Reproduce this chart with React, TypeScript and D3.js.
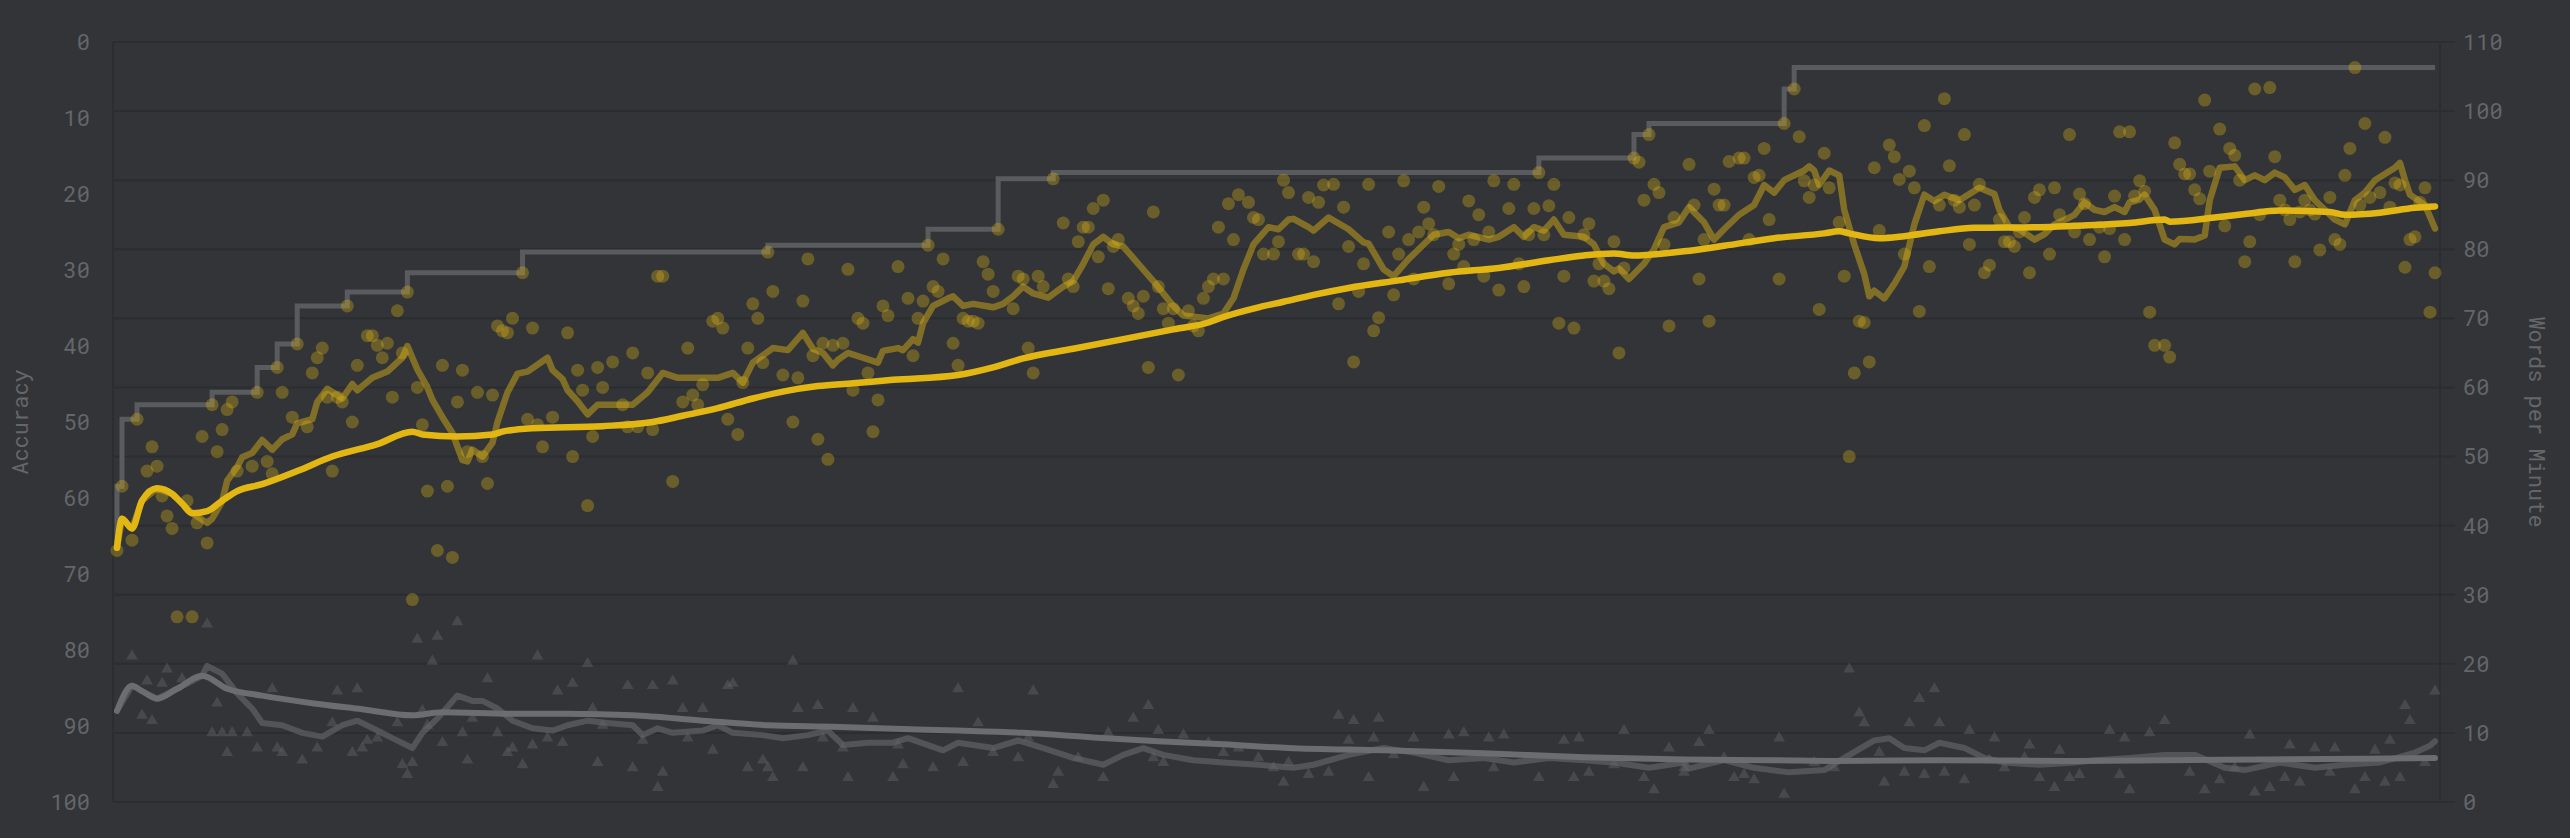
import React from "react";
import * as d3 from "d3";

// ---------- data (test index, value) ----------
const wpmTicks = [0, 10, 20, 30, 40, 50, 60, 70, 80, 90, 100, 110];
const accTicks = [0, 10, 20, 30, 40, 50, 60, 70, 80, 90, 100];

const wpmPoints: [number, number][] = [
  [0,36.4],[1,45.7],[3,37.9],[4,55.4],[6,47.9],[7,51.4],[8,48.6],[9,44.3],[10,41.4],[11,39.6],[12,26.8],[14,43.6],[15,26.8],[16,40.4],[17,52.9],[18,37.5],[19,57.5],[20,50.7],[21,53.9],[22,56.8],[23,57.9],[24,47.9],[27,48.6],[28,59.3],[30,49.3],[31,47.5],[32,62.9],[33,59.3],[35,55.7],[36,66.3],[38,54.3],[39,62.1],[40,64.3],[41,65.7],[42,58.6],[43,47.9],[44,58.6],[45,57.9],[46,71.8],[47,55],[48,63.2],[50,67.5],[51,67.5],[52,66.1],[53,64.3],[54,66.4],[55,58.6],[56,71.1],[57,65],[58,73.8],[59,29.3],[60,60],[61,54.6],[62,45],[64,36.4],[65,63.2],[66,45.7],[67,35.4],[68,57.9],[69,62.5],[70,50.7],[72,59.3],[73,50],[74,46.1],[75,58.9],[76,68.9],[77,68.2],[78,67.9],
  [79,70],[81,76.6],[82,55.4],[83,68.6],[84,54.6],[85,51.4],[87,55.7],[90,67.9],[91,50],[92,62.5],[93,59.6],[94,42.9],[95,52.9],[96,62.9],[97,60],[99,63.7],[101,57.5],[102,54.3],[103,65],[104,54.3],[106,62.1],[107,53.9],[108,76.1],[109,76.1],[111,46.4],[113,57.9],[114,65.7],[115,58.9],[116,57.5],[117,60.4],[119,69.6],[120,70],[121,68.6],[122,55.4],[124,53.2],[125,60.7],[126,65.7],[127,72.1],[128,70],[129,63.6],[130,79.6],[131,73.9],[133,61.8],[135,55],[136,61.4],[137,72.5],[138,78.6],[139,64.6],[140,52.5],[141,66.4],[142,49.6],[143,66.1],[145,66.4],[146,77.1],[147,59.6],[148,70],[149,69.3],[150,62.1],[151,53.6],[152,58.2],[153,71.8],[154,70.4],[156,77.5],
  [158,72.9],[159,64.6],[160,70],[161,72.5],[162,80.6],[163,74.6],[164,73.9],[165,78.6],[167,66.4],[168,63.2],[169,70],[170,69.6],[171,69.6],[172,69.3],[173,78.2],[174,76.4],[175,73.9],[176,82.9],[179,71.4],[180,76.1],[181,75.7],[182,65.7],[183,62.1],[184,76.1],[185,74.6],[187,90.2],[189,83.8],[190,75.7],[191,74.6],[192,81.1],[193,83.2],[194,83.2],[195,85.9],[196,78.9],[197,87.1],[198,74.3],[199,80.4],[200,81.4],[202,72.9],[203,71.8],[204,70.7],[205,73.2],[206,62.9],[207,85.4],[208,74.6],[209,71.4],[210,69.3],[211,71.4],[212,61.8],[214,71.1],[215,68.9],[216,68.2],[217,72.9],[218,74.6],[219,75.7],[220,83.2],[221,75.7],[222,86.6],[223,81.4],[224,87.9],[226,86.8],[227,84.6],[228,84.3],[229,79.3],[231,79.3],[232,81.1],[233,90.0],[234,88.2],
  [236,79.3],[237,79.3],[238,87.5],[239,78.2],[240,86.8],[241,89.3],[243,89.4],[244,72.1],[245,86.1],[246,80.4],[247,63.7],[248,73.9],[249,77.9],[250,89.4],[251,68.2],[252,70.1],[254,82.5],[255,73.4],[256,79.3],[257,89.9],[258,81.4],[259,75.7],[260,82.5],[261,86.1],[262,83.7],[263,82.1],[264,89.1],[266,75],[267,79.3],[268,80.7],[269,77.5],[270,87],[271,81.4],[272,85],[273,76.1],[274,82.5],[275,89.9],[276,74.1],[278,85.9],[279,89.4],[280,77.9],[281,74.6],[282,82.1],[283,85.9],[284,91.1],[285,82.1],[286,86.3],[287,89.4],[288,69.3],[289,76.1],[290,84.6],[291,68.6],[293,82.1],[294,83.7],[295,75.4],[296,77.9],[297,75.4],[298,74.3],[299,81.1],[300,65],[301,77.3],[303,93.2],[304,92.6],[305,87.1],[306,96.6],[307,89.4],[308,88.2],[309,80.7],[310,68.9],[311,84.6],
  [314,92.3],[315,86.4],[316,75.7],[317,81.4],[318,69.6],[319,88.7],[320,86.4],[321,86.4],[322,92.7],[324,93.2],[325,93.2],[326,81.4],[327,90.4],[328,90.7],[329,94.6],[330,84.3],[332,75.7],[333,98.2],[335,103.2],[336,96.3],[337,89.9],[338,87.5],[339,89.3],[340,71.3],[341,93.9],[342,88.9],[344,83.9],[345,76.1],[346,50],[347,62.1],[348,69.6],[349,69.4],[350,63.7],[351,91.8],[352,82.7],[354,95.1],[355,93.4],[356,90.1],[357,79.3],[358,91.3],[359,88.9],[360,71],[361,97.9],[362,77.5],[364,86.4],[365,101.8],[366,92.1],[367,87.1],[368,86.1],[369,96.6],[370,80.7],[371,86.4],[372,89.4],[373,76.6],[374,77.7],[376,84.3],[377,81.1],[378,81.1],[379,80.4],[380,82.5],[381,84.6],[382,76.6],[383,87.5],[384,88.6],[386,79.3],[387,88.9],[388,85],[390,96.6],
  [391,82.5],[392,88],[393,86.6],[394,81.4],[396,83.2],[397,78.9],[398,83],[399,87.7],[400,97],[401,81.4],[402,97],[403,87.7],[404,89.9],[405,88.4],[406,70.9],[407,66.1],[409,66.1],[410,64.4],[411,95.4],[412,92.3],[413,90.9],[414,90.9],[415,88.6],[416,87.3],[417,101.6],[418,91.3],[420,97.4],[421,83.4],[422,94.6],[423,93.6],[424,90],[425,78.2],[426,81.1],[427,103.2],[428,85],[430,103.4],[431,93.4],[432,87.1],[433,85.7],[434,84.3],[435,78.2],[436,85.4],[437,87.1],[438,85.7],[439,85.1],[440,79.9],[442,87.5],[443,81.4],[444,80.7],[445,90.7],[446,94.6],[447,106.3],[448,86.4],[449,98.2],[450,87.5],[452,88.2],[453,96.2],[454,86.1],[455,89.6],[456,89.3],[457,77.4],[458,81.4],[459,81.8],[460,86.8],[461,88.9],[462,70.9],[463,76.6],
];

const pbSteps: [number, number][] = [
  [0,36.4],[1,45.7],[4,55.4],[19,57.5],[28,59.3],[32,62.9],[36,66.3],[46,71.8],[58,73.8],[81,76.6],[130,79.6],[162,80.6],[176,82.9],[187,90.2],[284,91.1],[303,93.2],[306,96.6],[333,98.2],[335,103.2],[447,106.3],[463,106.3],
];

const wpmAvg10: [number, number][] = [
  [0,36.8],[1,41],[3,39.6],[5,43.6],[8,45.4],[11,44.6],[13,43.2],[15,41.8],[18,40.4],[19,41],[21,43.5],[22,46.5],[24,48.5],[25,49.9],[27,50.5],[29,52.4],[31,51],[33,52.5],[35,53.2],[36,54.8],[39,55.4],[40,57.9],[42,59.8],[45,58.4],[47,60.5],[48,59.6],[51,61.4],[54,62.3],[57,64.3],[58,66],[60,62.6],[62,60],[63,58.2],[65,55.7],[67,53.4],[69,49.5],[70,49.3],[71,51],[73,50],[75,52],[76,55],[78,59.3],[80,62],[82,62.3],[86,64.3],[87,62.5],[89,61.2],[90,59.6],[92,58],[94,56.1],[96,57.5],[99,57.5],[103,57.5],[106,59.3],[109,62.1],[112,61.4],[117,61.4],[120,61.4],[123,62.1],[125,60.7],[127,63.6],[131,65.7],[134,65.4],[137,67.9],[139,65.6],[141,65],[143,63.2],[144,64],[146,65],[149,64.3],[152,63.6],[153,65.3],[156,65.7],[157,65.4],[159,67],[160,66.5],[161,69.3],[163,71.8],[166,72.9],[167,73.2],[169,71.8],[171,72.1],[175,71.6],[177,72.1],[179,73.2],[181,74.6],[183,73.6],[186,73],[189,74.6],[191,75.4],[193,77.9],[195,80.7],[197,81.8],[199,80.7],[201,80.4],[204,77.9],[207,75.4],[209,73.6],[211,71.8],[213,70.4],[218,70],[221,70.7],[223,72.9],[225,77.1],[227,80.7],[230,83.2],[232,82.9],[234,84.3],
  [235,84.4],[238,83.2],[239,82.7],[242,84.6],[246,82.9],[249,81],[250,80.8],[253,77.1],[255,76.1],[258,78.6],[259,79.3],[263,82.1],[266,82.5],[268,81.6],[270,82.1],[274,81.4],[276,81.8],[279,83.2],[281,81.8],[283,83.2],[285,82.7],[287,84.3],[289,82.1],[293,81.8],[295,80.7],[297,77.9],[299,76.8],[300,77.2],[302,75.7],[305,77.9],[307,80],[309,83.2],[312,83.9],
  [314,86.1],[317,83.9],[319,81.4],[321,82.9],[324,85],[327,86.4],[329,89.3],[331,88.2],[333,90],[337,91.4],[338,92],[339,91.4],[340,89.3],[342,91.4],[344,90.7],[345,85.7],[347,80.7],[349,76.4],[350,73.2],[351,74],[353,72.9],[355,75],[357,77.5],[359,83.6],[361,87.9],[363,87],[365,87.9],[368,87.1],[370,88],[372,88.9],[375,88],[376,85.7],[378,83.2],[380,82.9],[383,81.4],[385,82.2],[387,83.6],[390,84.6],
  [391,85],[393,86.8],[395,85.7],[397,85.4],[399,86.1],[401,85.4],[402,86.8],[404,87.2],[405,87.9],[407,85.7],[409,81.4],[411,80.7],[412,81.5],[415,81.4],[417,82],[418,87.1],[420,91.8],[423,92],[425,90],[427,90.7],[429,90],[431,91.1],[433,90.4],[435,88.6],[437,89.3],[439,87.1],[441,85.7],[443,84.3],[445,83.6],[447,87.1],[449,88.2],[451,90],[455,91.8],[456,92.5],[457,90],[458,87.9],[461,86.4],[463,83],
];

const wpmAvg100: [number, number][] = [
  [0,36.8],[1,41],[3,39.6],[5,43.6],[8,45.4],[11,44.6],[13,43.2],[15,41.8],[18,42.1],[21,43.6],[24,45],[29,46],[36,47.9],[43,50],[52,51.8],[59,53.6],[61,53.2],[68,52.9],[75,53.2],[77,53.6],[83,54.1],[97,54.4],[107,55],[113,55.9],[120,57],[127,58.4],[133,59.4],[140,60.2],[147,60.6],[155,61.1],[168,61.8],[175,62.9],[181,64.2],[191,65.6],[201,67],[211,68.4],[218,69.4],[221,70.2],[228,71.6],[233,72.4],[239,73.4],[246,74.4],[256,75.5],[266,76.6],[276,77.3],[286,78.4],[293,79.1],[299,79.4],[303,79.1],[306,79.2],[313,79.7],[321,80.5],[331,81.6],[341,82.3],[344,82.6],[346,82.3],[352,81.6],[357,81.9],[364,82.6],[371,83.1],[384,83.2],[391,83.4],[402,83.8],[409,84.3],[410,84],[419,84.6],[425,85.1],[432,85.6],[442,85.4],[445,85],[452,85.3],[459,86],[463,86.2],
];

const accPoints: [number, number][] = [
  [3,80.8],[18,76.6],[10,82.5],[6,84.1],[5,88.6],[7,89.3],[9,84.4],[13,83.8],[19,90.9],[21,90.9],[23,90.9],[26,90.9],[22,93.5],[20,87],[28,92.9],[31,85.1],[32,92.9],[33,93.5],[37,94.5],[40,92.9],[43,89.6],[44,85.4],[48,85.1],[47,93.5],[49,92.9],[50,91.9],[52,91.6],[56,89.6],[57,95.1],[58,96.4],[59,94.8],[60,78.6],[63,81.5],[64,78.2],[68,76.3],[65,92.2],[69,90.9],[70,94.5],[71,89],[74,83.8],[76,90.9],[78,93.5],[61,88],[62,89.9],
  [84,80.8],[88,85.4],[91,84.4],[94,81.8],[81,95.1],[79,92.9],[83,92.5],[86,91.6],[89,92.2],[95,87.7],[96,94.8],[97,89.9],[102,84.7],[103,95.5],[105,91.9],[107,84.7],[108,98.1],[109,96.1],[111,84.1],[113,87.7],[114,91.6],[117,87.7],[119,93.2],[122,84.7],[123,84.4],[126,95.5],[129,94.5],[130,95.5],[131,96.8],[135,81.5],[136,87.7],[137,95.5],[140,87.3],[141,91.6],[146,96.8],[147,87.7],[145,92.9],[151,89],[155,96.8],[156,92.5],
  [168,85.1],[183,85.4],[157,95.1],[163,95.5],[169,94.8],[172,89.6],[175,93.5],[180,94.2],[182,91.6],[188,96.1],[187,97.7],[192,94.2],[197,96.8],[198,90.9],[203,89],[206,87.3],[207,94.2],[208,90.6],[213,91.2],[209,94.8],[218,92.2],[221,93.5],[224,92.9],[228,94.2],[231,95.5],[234,94.8],
  [244,88.6],[247,89.3],[252,89],[246,91.9],[251,91.6],[259,91.6],[266,91.2],[269,90.9],[274,91.6],[277,91.2],[289,91.9],[292,91.6],[301,90.6],[310,92.9],[233,97.4],[238,96.4],[242,96.1],[250,96.8],[255,93.8],[261,98.1],[267,96.8],[275,95.5],[284,96.8],[291,96.8],[294,96.1],[299,95.1],[305,96.8],[307,98.4],[313,96.1],
  [346,82.5],[348,88.3],[349,89.6],[360,86.4],[363,85.1],[358,89.6],[364,89.6],[370,90.6],[375,91.6],[382,92.5],[388,93.2],[318,90.6],[316,92.2],[332,91.6],[323,96.8],[325,96.4],[327,97.1],[333,99],[339,94.8],[343,95.5],[353,97.4],[357,96.1],[361,96.4],[365,96.1],[369,97.1],[377,95.5],[384,96.8],[387,98.1],[313,95.5],[321,94.2],[352,93.5],[374,94.5],[381,94.2],
  [398,90.6],[401,91.6],[406,90.9],[409,89.3],[426,91.2],[434,92.5],[451,93.2],[454,91.9],[457,87.3],[458,89.3],[463,85.4],[461,94.8],[456,96.8],[390,96.8],[392,96.4],[400,96.4],[402,98.4],[417,98.4],[420,97.1],[427,98.7],[430,98.1],[433,96.8],[436,97.4],[442,96.1],[447,98.4],[449,96.8],[453,97.4],[443,92.9],[439,92.9],[423,95.5],[414,96.1],
];

const accAvg10: [number, number][] = [
  [0,88],[3,84.7],[5,85.4],[8,86.4],[12,85.1],[17,83.4],[18,82.1],[21,83.1],[24,85.7],[27,87.7],[29,89.6],[33,89.9],[37,90.9],[41,91.4],[45,89.9],[48,89.3],[52,90.6],[55,91.6],[59,92.9],[61,90.9],[64,89],[68,86],[71,86.7],[73,86.7],[76,87.7],[79,89.3],[83,90.3],[87,90.6],[90,89.9],[94,89.3],[98,89.6],[103,89.9],[105,91.2],[108,90.3],[111,90.9],[117,90.6],[120,89.9],[123,90.9],[129,91.2],[133,91.6],[138,91.2],[142,90.6],[145,92.5],[150,92.2],[155,92.2],[158,91.6],[165,93.2],[168,92.2],[175,92.9],[180,91.9],[185,92.9],[191,94.2],[197,95.1],[201,93.8],[205,92.9],[209,93.8],[215,94.5],[221,94.8],[228,95.1],[235,95.5],[239,95.1],[246,93.8],[253,92.9],[259,93.5],[266,94.5],[273,94.2],[279,94.8],[286,94.2],[293,94.5],[299,94.8],[306,95.5],[313,94.8],[314,95.6],[321,94.5],[327,95.5],[334,96.1],[341,95.8],[345,94.2],[351,91.9],[354,91.6],[357,92.9],[361,93.2],[364,92.2],[369,92.9],[373,94.2],[377,94.8],[384,95.1],[391,94.8],[395,94.5],[402,94.2],[409,93.8],[415,93.8],[421,95.5],[425,95.8],[432,94.8],[439,95.5],[445,95.1],[452,94.8],[459,93.5],[462,92.6],[463,92.0],
];

const accAvg100: [number, number][] = [
  [0,88],[3,84.7],[5,85.4],[8,86.4],[12,85.1],[17,83.4],[22,85.1],[29,86],[39,87],[49,87.8],[59,88.6],[65,88.2],[79,88.4],[90,88.4],[103,88.6],[117,89.3],[130,89.9],[143,90.1],[157,90.4],[168,90.6],[181,90.9],[195,91.5],[208,92],[221,92.4],[234,92.9],[253,93.2],[273,93.6],[293,94.1],[313,94.4],[331,94.5],[344,94.6],[364,94.5],[390,94.6],[409,94.5],[429,94.4],[449,94.3],[463,94.2],
];

// ---------- layout ----------
const W = 2570;
const H = 838;
const PLOT_LEFT = 113;
const PLOT_RIGHT = 2440;
const FONT = "'Roboto Mono', 'DejaVu Sans Mono', monospace";

const BG = "#323437";
const SUB = "#646669";
const MAIN = "#e2b714";
const GRID = "#2b2d30";

export default function App() {
  const x = d3.scaleLinear().domain([0, 463]).range([117, 2435]);
  const yW = d3.scaleLinear().domain([0, 110]).range([802, 42]);
  const yA = d3.scaleLinear().domain([0, 100]).range([42, 802]);

  const wLine = d3
    .line<[number, number]>()
    .x((d) => x(d[0]))
    .y((d) => yW(d[1]));
  const aLine = d3
    .line<[number, number]>()
    .x((d) => x(d[0]))
    .y((d) => yA(d[1]));
  const pbLine = d3
    .line<[number, number]>()
    .x((d) => x(d[0]))
    .y((d) => yW(d[1]))
    .curve(d3.curveStepBefore);

  const tri = d3.symbol().type(d3.symbolTriangle).size(60)() as string;

  return (
    <svg
      width={W}
      height={H}
      style={{ position: "absolute", left: 0, top: 0, background: BG, display: "block" }}
    >
      <rect x={0} y={0} width={W} height={H} fill={BG} />

      {/* grid */}
      <g>
        {wpmTicks.map((t) => (
          <line
            key={"g" + t}
            x1={PLOT_LEFT}
            x2={2455}
            y1={yW(t)}
            y2={yW(t)}
            stroke={GRID}
            strokeWidth={2}
          />
        ))}
        <line x1={PLOT_LEFT} x2={PLOT_LEFT} y1={yW(110)} y2={yW(0)} stroke={GRID} strokeWidth={2} />
        <line x1={PLOT_RIGHT} x2={PLOT_RIGHT} y1={yW(110)} y2={yW(0)} stroke={GRID} strokeWidth={2} />
      </g>

      {/* axis labels */}
      <g fontFamily={FONT} fontSize={22} fill={SUB}>
        {accTicks.map((t) => (
          <text key={"a" + t} x={90} y={yA(t)} dy="0.36em" textAnchor="end">
            {t}
          </text>
        ))}
        {wpmTicks.map((t) => (
          <text key={"w" + t} x={2463} y={yW(t)} dy="0.36em" textAnchor="start">
            {t}
          </text>
        ))}
        <text
          transform={`translate(20, ${(42 + 802) / 2}) rotate(-90)`}
          textAnchor="middle"
          dy="0.36em"
        >
          Accuracy
        </text>
        <text
          transform={`translate(2537, ${(42 + 802) / 2}) rotate(90)`}
          textAnchor="middle"
          dy="0.36em"
        >
          Words per Minute
        </text>
      </g>

      {/* accuracy triangles */}
      <g fill="rgba(100,102,105,0.42)">
        {accPoints.map((d, i) => (
          <path key={"t" + i} d={tri} transform={`translate(${x(d[0])},${yA(d[1])})`} />
        ))}
      </g>

      {/* accuracy averages */}
      <path
        d={aLine(accAvg10) || ""}
        fill="none"
        stroke="rgba(100,102,105,0.65)"
        strokeWidth={6}
        strokeLinejoin="round"
        strokeLinecap="round"
      />
      <path
        d={aLine.curve(d3.curveMonotoneX)(accAvg100) || ""}
        fill="none"
        stroke="#6b6d70"
        strokeWidth={6}
        strokeLinejoin="round"
        strokeLinecap="round"
      />

      {/* personal best */}
      <path
        d={pbLine(pbSteps) || ""}
        fill="none"
        stroke="#595b5e"
        strokeWidth={5}
        strokeLinejoin="miter"
      />

      {/* wpm dots */}
      <g fill="rgba(226,183,20,0.32)">
        {wpmPoints.map((d, i) => (
          <circle key={"c" + i} cx={x(d[0])} cy={yW(d[1])} r={6.5} />
        ))}
      </g>

      {/* wpm averages */}
      <path
        d={wLine(wpmAvg10) || ""}
        fill="none"
        stroke="rgba(226,183,20,0.45)"
        strokeWidth={6.5}
        strokeLinejoin="round"
        strokeLinecap="round"
      />
      <path
        d={wLine.curve(d3.curveMonotoneX)(wpmAvg100) || ""}
        fill="none"
        stroke={MAIN}
        strokeWidth={6.5}
        strokeLinejoin="round"
        strokeLinecap="round"
      />
    </svg>
  );
}
